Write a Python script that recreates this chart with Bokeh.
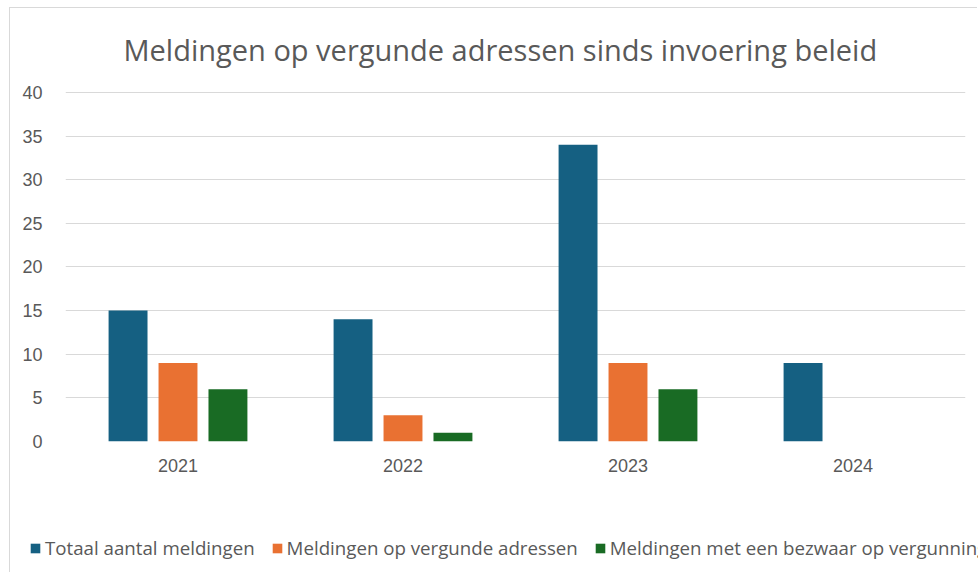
from bokeh.plotting import figure
from bokeh.layouts import column, row
from bokeh.models import (FactorRange, Range1d, Legend, LegendItem, SingleIntervalTicker,
                          ColumnDataSource, Spacer)
from bokeh.transform import dodge
from bokeh.embed import file_html
from bokeh.resources import INLINE

years = ["2021", "2022", "2023", "2024"]
totaal = [15, 14, 34, 9]
vergund = [9, 3, 9, 0]
bezwaar = [6, 1, 6, 0]
series_names = ["Totaal aantal meldingen", "Meldingen op vergunde adressen",
                "Meldingen met een bezwaar op vergunning"]
colors = ["#156082", "#E97132", "#196B24"]
title_text = "Meldingen op vergunde adressen sinds invoering beleid"

src = ColumnDataSource(dict(year=years, totaal=totaal, vergund=vergund, bezwaar=bezwaar))
fields = ["totaal", "vergund", "bezwaar"]
offsets = [-0.222, 0.0, 0.222]

# main chart
p = figure(x_range=FactorRange(factors=years, range_padding=0), y_range=Range1d(0, 40.1),
           width=968, height=512, output_backend="svg", toolbar_location=None,
           min_border_left=55, min_border_right=13, min_border_top=83, min_border_bottom=79)
p.styles = {"border-left": "1px solid #D9D9D9", "border-top": "1px solid #D9D9D9"}

p.title.text = title_text
p.title.align = "left"
p.title.offset = 58
p.title.vertical_align = "top"
p.title.standoff = 41
p.title.text_font = "Open Sans"
p.title.text_font_size = "29px"
p.title.text_font_style = "normal"
p.title.text_color = "#595959"

for f, off, c in zip(fields, offsets, colors):
    p.vbar(x=dodge("year", off, range=p.x_range), top=f, width=0.173, source=src,
           fill_color=c, line_color=None)

p.outline_line_color = None
p.xgrid.grid_line_color = None
p.ygrid.grid_line_color = "#D9D9D9"
p.ygrid.grid_line_width = 1
p.yaxis.ticker = SingleIntervalTicker(interval=5)
for ax in (p.xaxis[0], p.yaxis[0]):
    ax.axis_line_color = None
    ax.major_tick_line_color = None
    ax.minor_tick_line_color = None
    ax.major_label_text_color = "#595959"
    ax.major_label_text_font = "Liberation Sans"
    ax.major_label_text_font_size = "18px"
p.yaxis.major_label_standoff = 17
p.xaxis.major_label_standoff = 11

# legend strip: same series (drawn out of view), used only as legend keys
lg = figure(x_range=FactorRange(factors=years, range_padding=0), y_range=Range1d(100, 101),
            width=968, height=53, output_backend="svg", toolbar_location=None,
            x_axis_type=None, y_axis_type=None,
            min_border_left=0, min_border_right=0, min_border_top=0, min_border_bottom=0)
lg.styles = {"border-left": "1px solid #D9D9D9"}
lg.outline_line_color = None
lg.grid.visible = False
keys = []
for f, c in zip(fields, colors):
    keys.append(lg.vbar(x="year", top=f, width=0.1, source=src, fill_color=c, line_color=None))

legend = Legend(items=[LegendItem(label=n, renderers=[r]) for n, r in zip(series_names, keys)],
                orientation="horizontal", location=(19, 12),
                padding=0, margin=0, spacing=16, label_standoff=4,
                glyph_width=12, glyph_height=12,
                label_text_font="Open Sans", label_text_font_size="18.7px",
                label_text_color="#595959", border_line_color=None,
                background_fill_alpha=0)
lg.add_layout(legend, "center")

layout = column(Spacer(height=7), row(Spacer(width=9), p), row(Spacer(width=9), lg))
open("out.html", "w").write(file_html(layout, INLINE))
